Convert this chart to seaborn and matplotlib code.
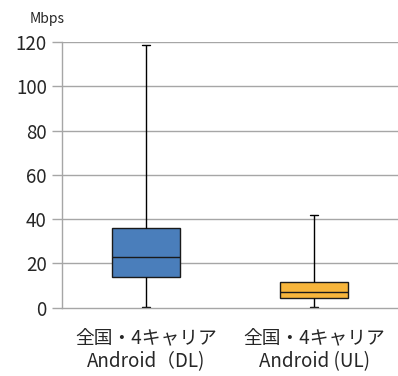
"""
plot.py
    Box plot of Android download / upload speeds (全国・4キャリア)
"""

import numpy as np
import pandas as pd
import seaborn as sns
import matplotlib.pyplot as plt

# Data: [min, q1, median, q3, max] in Mbps
categories = ['全国・4キャリア\nAndroid（DL)', '全国・4キャリア\nAndroid (UL)']
dl_values = [0.3, 13.8, 22.7, 35.8, 118.5]
ul_values = [0.3, 4.1, 7.1, 11.5, 41.8]
y_ticks = [0, 20, 40, 60, 80, 100, 120]
box_colors = ['#4A7EBB', '#F7B53B']

sns.set_style('white')
plt.rcParams['font.family'] = ['Noto Sans CJK JP', 'DejaVu Sans']

df = pd.DataFrame({
    'group': [categories[0]] * len(dl_values) + [categories[1]] * len(ul_values),
    'speed': dl_values + ul_values,
})

fig = plt.figure(figsize=(3.98, 3.76), dpi=100)
ax = fig.add_axes([0.156, 0.182, 0.844, 0.706])

grid_color = '#A6A6A6'
for t in y_ticks[1:]:
    ax.axhline(t, color=grid_color, lw=1, zorder=0)

sns.boxplot(data=df, x='group', y='speed', hue='group', order=categories,
            palette=box_colors, saturation=1, legend=False, whis=(0, 100), width=0.4,
            linewidth=1, linecolor='#1a1a1a', ax=ax,
            whiskerprops={'color': 'black'}, capprops={'color': 'black'},
            medianprops={'color': '#1a1a1a'})

# shorten the caps
for line in ax.lines:
    x = line.get_xdata()
    y = line.get_ydata()
    if len(x) == 2 and y[0] == y[1] and y[0] in (dl_values[0], dl_values[-1], ul_values[0], ul_values[-1]):
        c = (x[0] + x[1]) / 2
        line.set_xdata([c - 0.022, c + 0.022])

ax.set_xlim(-0.5, 1.5)
ax.set_ylim(0, 120)
ax.set_yticks(y_ticks)
ax.set_xlabel('')
ax.set_ylabel('')

ax.set_xticks([-0.5, 0.5, 1.5], minor=True)
ax.tick_params(axis='x', which='major', length=0, labelsize=13.5, pad=15)
ax.tick_params(axis='x', which='minor', length=7, color=grid_color, width=1, direction='out')
ax.tick_params(axis='y', length=7, color=grid_color, width=1, labelsize=13.5, pad=4,
               direction='out', left=True)
for lbl in ax.get_xticklabels():
    lbl.set_linespacing(1.1)

for side in ['top', 'right']:
    ax.spines[side].set_visible(False)
for side in ['left', 'bottom']:
    ax.spines[side].set_color(grid_color)
    ax.spines[side].set_linewidth(1)

fig.text(0.075, 0.94, 'Mbps', fontsize=10)

plt.savefig('out.png', dpi=100)
